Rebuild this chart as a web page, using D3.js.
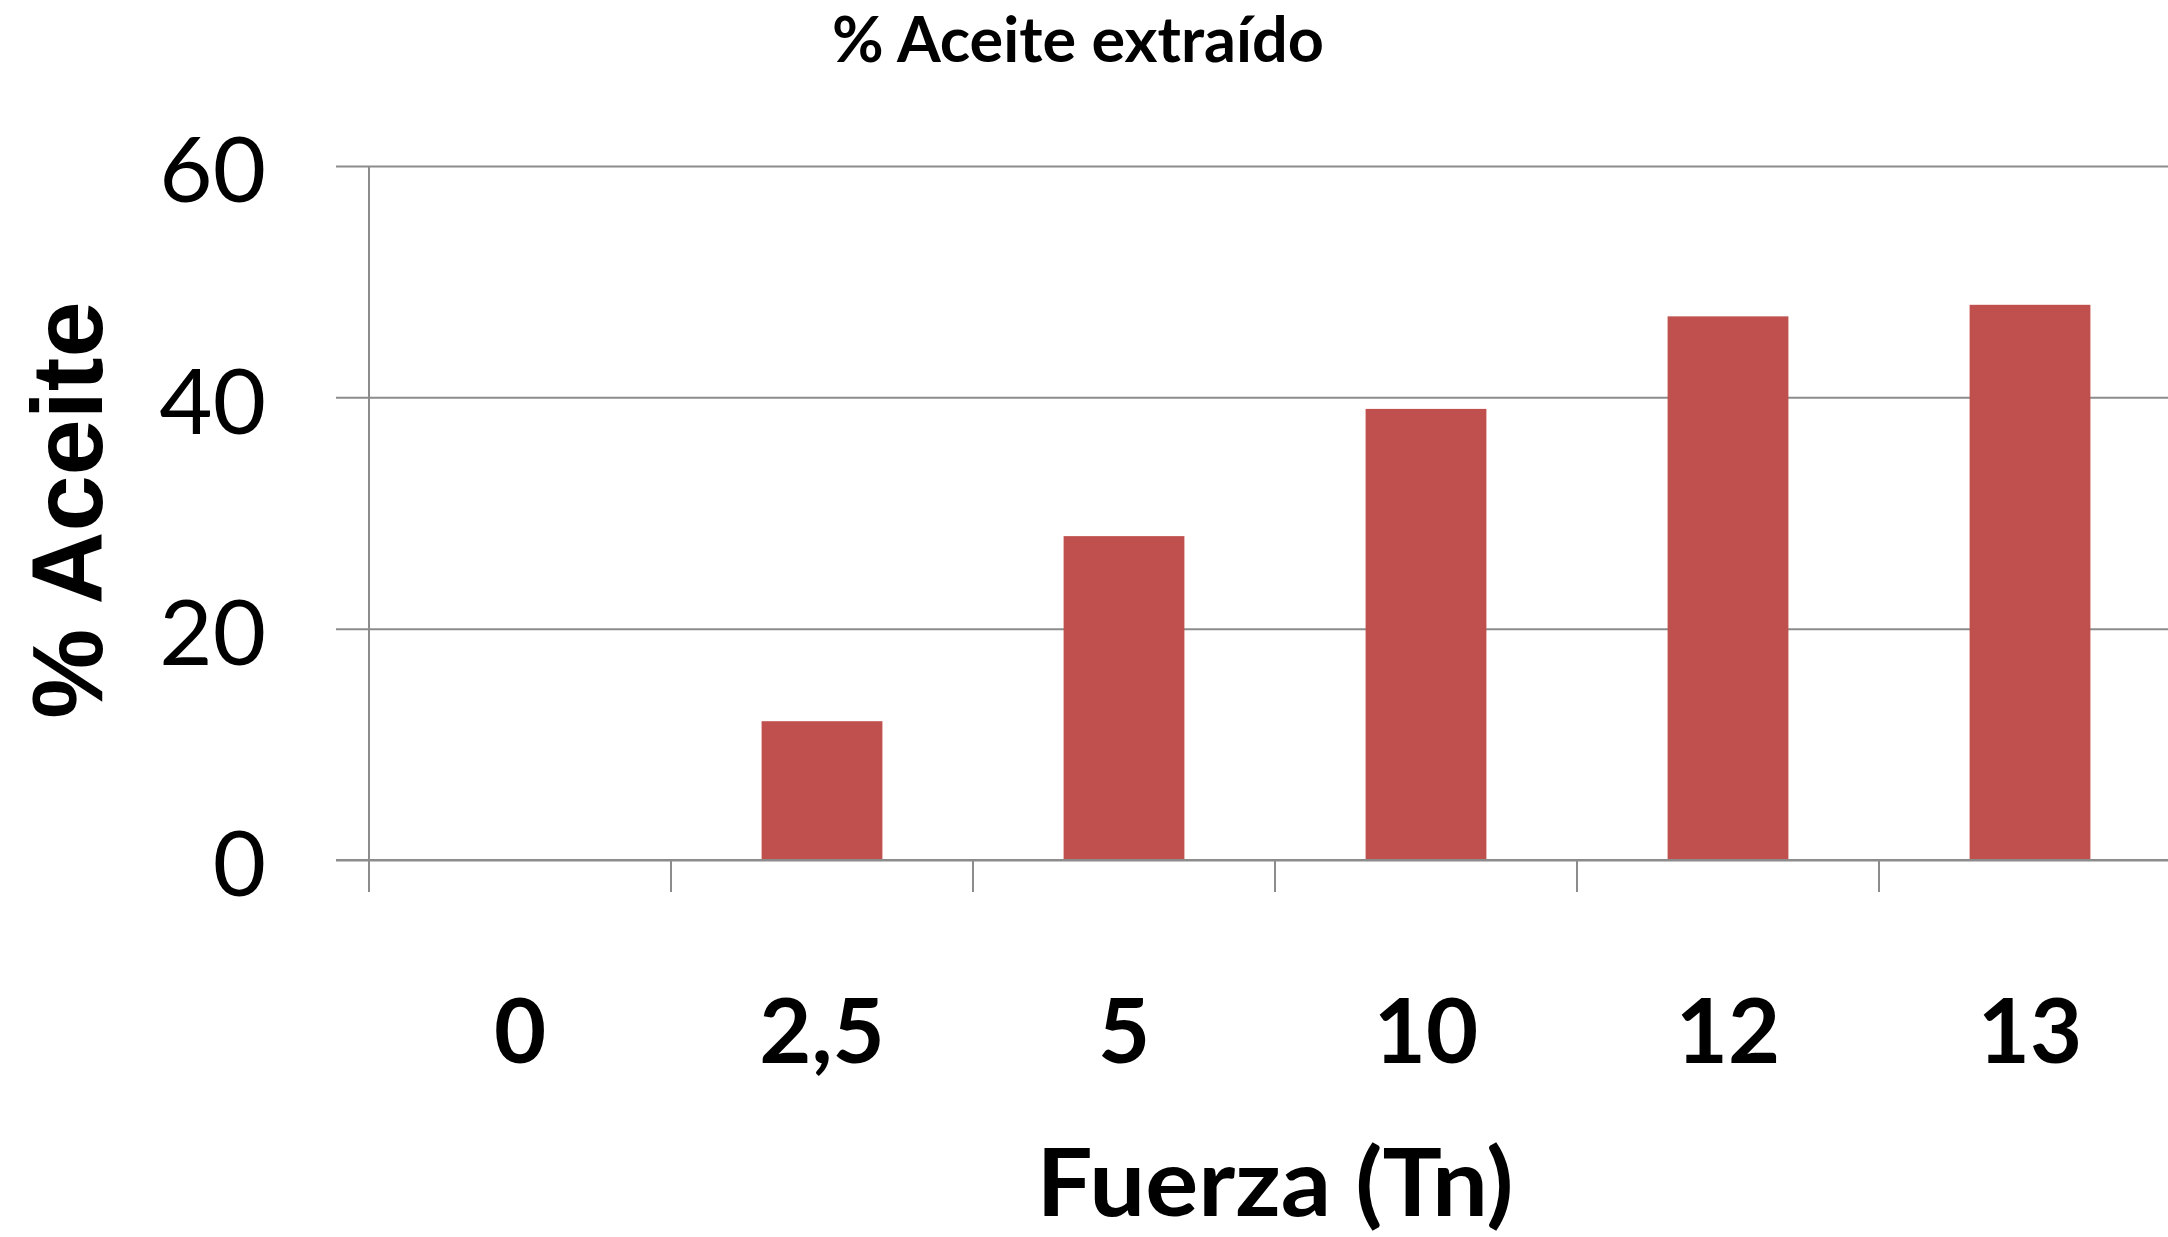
<!DOCTYPE html>
<html lang="es">
<head>
    <meta charset="utf-8">
    <title>% Aceite extraído</title>
    <script src="https://d3js.org/d3.v7.min.js"></script>
    <style>
        body {
            margin: 0;
            padding: 0;
            background: #fff;
            overflow: hidden;
        }

        .grid line {
            stroke: #8c8c8c;
            stroke-width: 2px;
        }

        .axis path,
        .axis line {
            stroke: #8c8c8c;
            stroke-width: 2px;
        }

        .y-labels text {
            font-family: Lato, sans-serif;
            font-size: 92px;
            fill: #000;
        }

        .x-labels text {
            font-family: Lato, sans-serif;
            font-weight: bold;
            font-size: 90px;
            fill: #000;
        }

        .title {
            font-family: Lato, sans-serif;
            font-weight: bold;
            font-size: 63px;
        }

        .x-title {
            font-family: Lato, sans-serif;
            font-weight: bold;
            font-size: 94px;
        }

        .y-title {
            font-family: "Liberation Sans", Arial, sans-serif;
            font-weight: bold;
            font-size: 101px;
        }
    </style>
</head>
<body>
<svg id="chart"></svg>
<script>
    // data
    const categories = ["0", "2,5", "5", "10", "12", "13"];
    const values = [0, 12, 28, 39, 47, 48];
    const yTicks = [0, 20, 40, 60];

    const width = 2168;
    const height = 1237;
    const margin = {top: 166, left: 369, bottom: 377};
    const plotW = 1812;   // runs a bit past the right edge, as in the picture
    const plotH = height - margin.top - margin.bottom;

    const svg = d3.select("#chart")
        .attr("width", width)
        .attr("height", height);

    const g = svg.append("g")
        .attr("transform", `translate(${margin.left},${margin.top})`);

    const x = d3.scaleBand()
        .domain(categories)
        .range([0, plotW])
        .paddingInner(0.6)
        .paddingOuter(0.3);

    // band boundaries for the category tick marks
    const step = x.step();
    const xEdges = d3.range(categories.length + 1).map(i => i * step);

    const y = d3.scaleLinear()
        .domain([0, 60])
        .range([plotH, 0]);

    // horizontal gridlines
    g.append("g")
        .attr("class", "grid")
        .call(d3.axisLeft(y).tickValues(yTicks).tickSize(-plotW).tickFormat(""))
        .call(a => a.select(".domain").remove());

    // value axis with outside tick marks
    const yAxis = g.append("g")
        .attr("class", "axis y-labels")
        .call(d3.axisLeft(y).tickValues(yTicks).tickSize(33).tickPadding(70));
    yAxis.select(".domain").attr("d", `M0,0V${plotH}`);
    yAxis.selectAll("text").attr("dy", "0.39em");

    // bars
    g.selectAll("rect.bar")
        .data(values)
        .join("rect")
        .attr("class", "bar")
        .attr("x", (d, i) => x(categories[i]))
        .attr("width", x.bandwidth())
        .attr("y", d => y(d))
        .attr("height", d => plotH - y(d))
        .attr("fill", "#c0504d");

    // category axis line and ticks at band edges
    const xAxis = g.append("g")
        .attr("class", "axis")
        .attr("transform", `translate(0,${plotH})`);
    xAxis.append("line")
        .attr("x1", -33).attr("x2", plotW)
        .attr("y1", 0).attr("y2", 0);
    xAxis.selectAll("line.tick")
        .data(xEdges)
        .join("line")
        .attr("class", "tick")
        .attr("x1", d => d).attr("x2", d => d)
        .attr("y1", 0).attr("y2", 32);

    g.append("g")
        .attr("class", "x-labels")
        .selectAll("text")
        .data(categories)
        .join("text")
        .attr("x", d => x(d) + x.bandwidth() / 2)
        .attr("y", plotH + 203)
        .attr("text-anchor", "middle")
        .text(d => d);

    // titles
    svg.append("text")
        .attr("class", "title")
        .attr("x", 1078)
        .attr("y", 62)
        .attr("text-anchor", "middle")
        .text("% Aceite extraído");

    svg.append("text")
        .attr("class", "x-title")
        .attr("x", margin.left + step * 3)
        .attr("y", 1216)
        .attr("text-anchor", "middle")
        .attr("textLength", 477)
        .attr("lengthAdjust", "spacingAndGlyphs")
        .text("Fuerza (Tn)");

    svg.append("text")
        .attr("class", "y-title")
        .attr("transform", "translate(102,510) rotate(-90)")
        .attr("text-anchor", "middle")
        .text("% Aceite");
</script>
</body>
</html>
